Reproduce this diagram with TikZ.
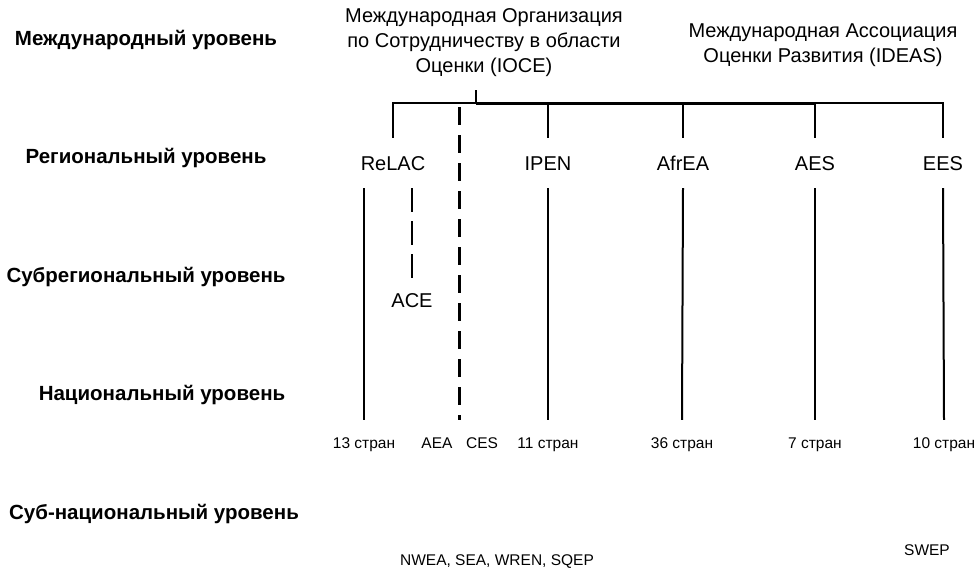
\documentclass[tikz,border=0pt]{standalone}
\usepackage{fontspec}
\setmainfont{Liberation Sans}
\usetikzlibrary{calc}

\tikzset{
  level/.style={font=\fontsize{20.5}{24}\selectfont\bfseries, inner sep=0pt},
  org/.style={font=\fontsize{20}{25}\selectfont, align=center, inner sep=0pt},
  assoc/.style={font=\fontsize{20}{24}\selectfont, inner sep=0pt, text height=14.5pt, text depth=0pt, minimum height=50pt},
  country/.style={font=\fontsize{15.5}{18}\selectfont, inner sep=0pt, text height=11pt, text depth=0pt, minimum height=46pt},
  link/.style={black, line width=2pt},
  dashlink/.style={black, line width=2.2pt, dash pattern=on 18pt off 10pt},
}

\begin{document}
\begin{tikzpicture}[x=1pt,y=-1pt]
                    \useasboundingbox (0,0) rectangle (975,570);
                    % levels
                    \node[level] (lint) at (146,40) {Международный уровень};
                    \node[level] (lreg) at (146,158) {Региональный уровень};
                    \node[level] (lsubreg) at (146,277) {Субрегиональный уровень};
                    \node[level] (lnat) at (162,395) {Национальный уровень};
                    \node[level] (lsubnat) at (154,514) {Суб-национальный уровень};

                    % international
                    \node[org] (ioce) at (484,43) {Международная Организация\\по Сотрудничеству в области\\Оценки (IOCE)};
                    \node[org] (ideas) at (823,45) {Международная Ассоциация\\Оценки Развития (IDEAS)};

                    % regional
                    \node[assoc] (relac) at (393,163) {ReLAC};
                    \node[assoc] (ipen) at (548,163) {IPEN};
                    \node[assoc] (afrea) at (683,163) {AfrEA};
                    \node[assoc] (aes) at (815,163) {AES};
                    \node[assoc] (ees) at (943,163) {EES};

                    % subregional
                    \node[assoc, minimum height=44pt] (ace) at (412,300) {ACE};

                    % national
                    \node[country] (n13) at (364,443) {13 стран};
                    \node[country] (aea) at (437,443) {AEA};
                    \node[country] (ces) at (482,443) {CES};
                    \node[country] (n11) at (548,443) {11 стран};
                    \node[country] (n36) at (682,443) {36 стран};
                    \node[country] (n7) at (815,443) {7 стран};
                    \node[country] (n10) at (944,443) {10 стран};

                    % subnational
                    \node[country] (nwea) at (497,560) {NWEA, SEA, WREN, SQEP};
                    \node[country] (swep) at (927,550) {SWEP};

                    % tree
                    \coordinate (hub) at (476,90);
                    \coordinate (bar) at (476,103);
                    \coordinate (split) at ($(aea.north)!0.5!(ces.north)$);
                    \draw[link] (hub) -- (bar);
                    \draw[link] (bar) -| (relac.north);
                    \draw[link, line width=3pt] (bar) -- (bar -| aes);
                    \draw[link] (bar -| aes) -| (ees.north);
                    \draw[link] (bar -| ipen) -- (ipen.north);
                    \draw[link] (bar -| afrea) -- (afrea.north);
                    \draw[link] (bar -| aes) -- (aes.north);
                    \draw[dashlink, shorten <=4pt] (bar -| split) -- (split);

                    \draw[link] (relac.south -| n13) -- (n13.north);
                    \draw[dashlink, dash pattern=on 24pt off 9pt] (relac.south -| ace) -- (ace.north);
                    \draw[link] (ipen.south) -- (n11.north);
                    \draw[link] (afrea.south) -- (n36.north);
                    \draw[link] (aes.south) -- (n7.north);
                    \draw[link] (ees.south) -- (n10.north);
\end{tikzpicture}
\end{document}
